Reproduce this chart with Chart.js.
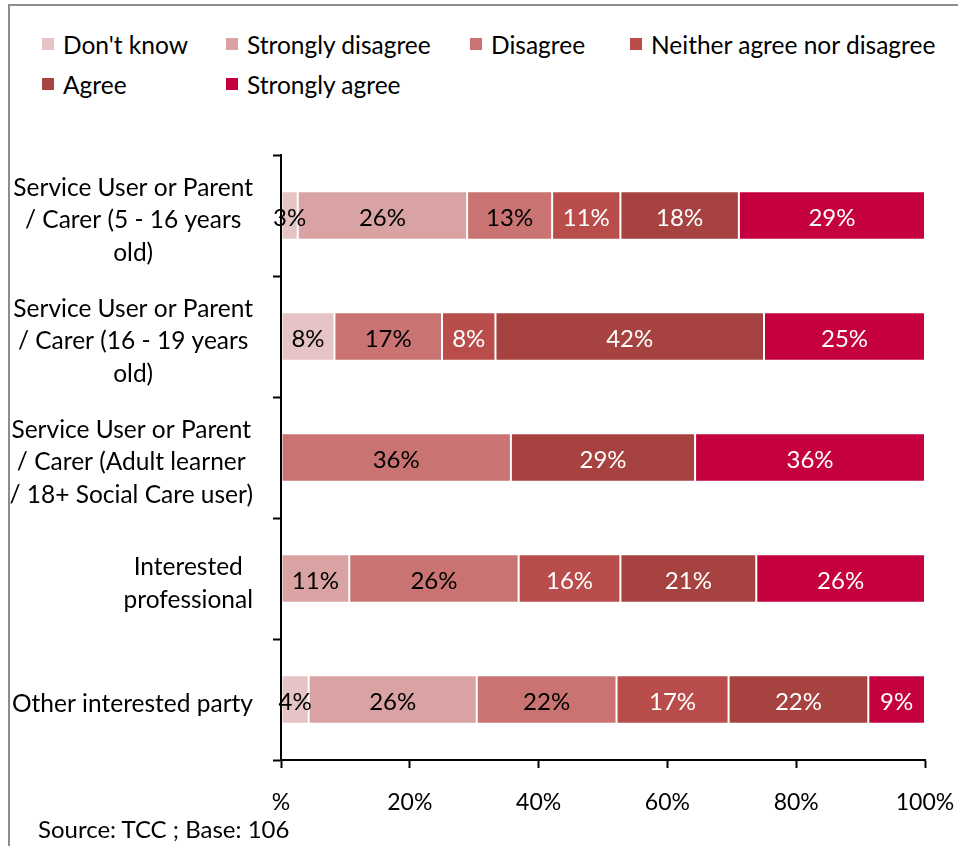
<!DOCTYPE html>
<html>
<head>
<meta charset="utf-8">
<script src="https://cdn.jsdelivr.net/npm/chart.js@4.4.1/dist/chart.umd.min.js"></script>
<style>
    body { margin: 0; background: #fff; font-family: Lato, sans-serif; }
    #wrap { position: relative; width: 958px; height: 846px; overflow: hidden; }
    #frame {
        position: absolute; left: 8px; top: 4px; right: -10px; bottom: -10px;
        border-left: 2px solid #8c8c8c; border-top: 2px solid #8c8c8c;
    }
    #legend {
        position: absolute; left: 42px; top: 29px;
        display: grid; grid-template-columns: 184px 244px 160px auto;
        row-gap: 10px; font-size: 24.5px; color: #000;
    }
    .item { display: flex; align-items: center; height: 30px; white-space: nowrap; }
    .box { width: 12px; height: 12px; margin-right: 9px; }
    #source { position: absolute; left: 38px; top: 814px; font-size: 24px; color: #000; }
    canvas { position: absolute; left: 0; top: 0; }
</style>
</head>
<body>
<div id="wrap">
    <div id="frame"></div>
    <div id="legend"></div>
    <canvas id="chart" width="958" height="846"></canvas>
    <div id="source">Source: TCC ; Base: 106</div>
</div>
<script>
const categories = [
    ['Service User or Parent', '/ Carer (5 - 16 years', 'old)'],
    ['Service User or Parent', '/ Carer (16 - 19 years', 'old)'],
    ['Service User or Parent', '/ Carer (Adult learner', '/ 18+ Social Care user)'],
    ['Interested', 'professional'],
    ['Other interested party']
];
const seriesNames = ["Don't know", 'Strongly disagree', 'Disagree',
    'Neither agree nor disagree', 'Agree', 'Strongly agree'];

// percentages per category
const dontKnow         = [2.6, 8.3, 0, 0, 4.3];
const stronglyDisagree = [26.3, 0, 0, 10.6, 26.1];
const disagree         = [13.2, 16.7, 35.7, 26.3, 21.7];
const neither          = [10.6, 8.3, 0, 15.8, 17.4];
const agree            = [18.4, 41.7, 28.6, 21.1, 21.7];
const stronglyAgree    = [28.9, 25.0, 35.7, 26.2, 8.8];

const tickLabels = ['%', '20%', '40%', '60%', '80%', '100%'];

const colors = ['#e6c4c5', '#d9a3a3', '#c97472', '#b84d4b', '#a64341', '#c5003f'];
const labelColors = ['#000', '#000', '#000', '#fff', '#fff', '#fff'];
const FONT = 'Lato, sans-serif';

const series = [dontKnow, stronglyDisagree, disagree, neither, agree, stronglyAgree];

// value labels in the middle of each segment
const segmentLabels = {
    id: 'segmentLabels',
    afterDatasetsDraw(chart) {
        const ctx = chart.ctx;
        ctx.save();
        ctx.font = '24px ' + FONT;
        ctx.textAlign = 'center';
        ctx.textBaseline = 'middle';
        chart.data.datasets.forEach((ds, i) => {
            chart.getDatasetMeta(i).data.forEach((bar, j) => {
                const v = ds.data[j];
                if (!v) return;
                ctx.fillStyle = labelColors[i];
                ctx.fillText(Math.round(v) + '%', (bar.x + bar.base) / 2, bar.y + 3);
            });
        });
        ctx.restore();
    }
};

// category names: lines centred on each other, block pushed against the axis
const categoryLabels = {
    id: 'categoryLabels',
    afterDraw(chart) {
        const ctx = chart.ctx;
        const y = chart.scales.y;
        const right = chart.chartArea.left - 28;
        const lineH = 32.5;
        ctx.save();
        ctx.font = '24.5px ' + FONT;
        ctx.fillStyle = '#000';
        ctx.textAlign = 'center';
        ctx.textBaseline = 'middle';
        categories.forEach((lines, i) => {
            const w = Math.max(...lines.map(l => ctx.measureText(l).width));
            const cx = right - w / 2;
            const cy = y.getPixelForValue(i);
            lines.forEach((l, k) => {
                ctx.fillText(l, cx, cy + (k - (lines.length - 1) / 2) * lineH + 5);
            });
        });
        ctx.restore();
    }
};

const chart = new Chart(document.getElementById('chart'), {
    type: 'bar',
    data: {
        labels: categories,
        datasets: series.map((d, i) => ({
            label: seriesNames[i],
            data: d,
            backgroundColor: colors[i],
            borderColor: '#ffffff',
            borderWidth: 1,
            borderSkipped: false,
            categoryPercentage: 1,
            barPercentage: 0.4
        }))
    },
    options: {
        indexAxis: 'y',
        responsive: false,
        animation: false,
        layout: { padding: { top: 155, right: 33, left: 0, bottom: 0 } },
        plugins: {
            legend: { display: false },
            tooltip: { enabled: false }
        },
        scales: {
            x: {
                stacked: true,
                min: 0,
                max: 100,
                afterFit: s => {
                    s.height = 86;
                    s.paddingLeft = 0;
                    s.paddingRight = 0;
                },
                ticks: {
                    stepSize: 20,
                    padding: 21,
                    color: '#000',
                    font: { family: FONT, size: 23 },
                    callback: (v, i) => tickLabels[i]
                },
                grid: {
                    drawOnChartArea: false,
                    tickLength: 8,
                    tickColor: '#000',
                    tickWidth: 2
                },
                border: { color: '#000', width: 2 }
            },
            y: {
                stacked: true,
                afterFit: s => { s.width = 281; },
                ticks: { display: false },
                grid: {
                    drawOnChartArea: false,
                    tickLength: 8,
                    tickColor: '#000',
                    tickWidth: 2
                },
                border: { color: '#000', width: 2, z: 1 }
            }
        }
    },
    plugins: [segmentLabels, categoryLabels]
});

// legend laid out in columns
const legend = document.getElementById('legend');
chart.data.datasets.forEach(ds => {
    const item = document.createElement('div');
    item.className = 'item';
    item.innerHTML = `<span class="box" style="background:${ds.backgroundColor}"></span>${ds.label}`;
    legend.appendChild(item);
});
</script>
</body>
</html>
